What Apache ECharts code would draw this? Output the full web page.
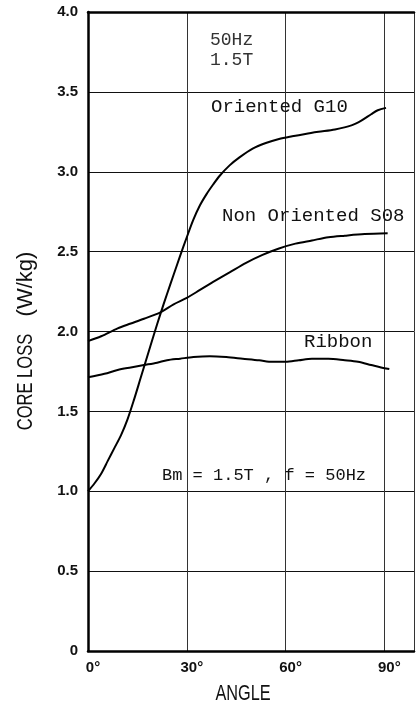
<!DOCTYPE html>
<html>
<head>
<meta charset="utf-8">
<script src="https://cdn.jsdelivr.net/npm/echarts@6/dist/echarts.min.js"></script>
<style>
html,body{margin:0;padding:0;background:#fff;}
#main{width:417px;height:705px;}
</style>
</head>
<body>
<div id="main"></div>
<script>
// core loss vs angle
var xTicks=[0,30,60,90];
var yTicks=[0,0.5,1.0,1.5,2.0,2.5,3.0,3.5,4.0];

var g10Angle=[0,2,4,6,8,10,12,14,16,18,20,22,24,26,28,30,32,34,36,38,40,43,46,50,54,58,62,66,70,75,80,83,86,88,90.5];
var g10Loss=[1.0,1.05,1.11,1.19,1.27,1.35,1.45,1.575,1.71,1.845,1.98,2.11,2.235,2.355,2.475,2.59,2.70,2.79,2.86,2.92,2.975,3.04,3.09,3.145,3.18,3.205,3.222,3.237,3.25,3.265,3.29,3.32,3.36,3.385,3.40];

var s08Angle=[0,4,9,13,17,22,26,30,34,38,43,48,53,58,63,68,73,78,84,91];
var s08Loss=[1.94,1.97,2.02,2.05,2.08,2.12,2.17,2.21,2.26,2.31,2.37,2.43,2.48,2.52,2.55,2.57,2.59,2.60,2.61,2.615];

var ribbonAngle=[0,5,9,13,17,21,24,28,32,37,42,47,52,56,60,64,68,73,78,82,86,89,91.5];
var ribbonLoss=[1.713,1.735,1.759,1.775,1.79,1.805,1.82,1.83,1.84,1.845,1.84,1.83,1.82,1.81,1.81,1.82,1.83,1.83,1.82,1.81,1.79,1.775,1.765];

function pairs(xs,ys){
    var out=[];
    for(var i=0;i<xs.length;i++){ out.push([xs[i],ys[i]]); }
    return out;
}

var monoFont="'Liberation Mono','DejaVu Sans Mono',monospace";
var sansFont="'Liberation Sans',Arial,sans-serif";

//图中的文字注释
function note(text,x,y,size,color){
    return {
        type:'text',x:x,y:y,z:10,
        style:{text:text,font:size+'px '+monoFont,fill:color||'#111',verticalAlign:'middle'}
    };
}

//窄体的坐标轴标题
function axisTitle(text,x,y,rot,sx){
    return {
        type:'text',x:x,y:y,rotation:rot,scaleX:sx,z:10,
        style:{text:text,font:'22px '+sansFont,fill:'#111',align:'center',verticalAlign:'middle'}
    };
}

var myChart=echarts.init(document.getElementById('main'));
var lineStyle={color:'#000',width:2};

var option={
    backgroundColor:'#fff',
    animation:false,
    grid:{left:88,right:0,top:12,bottom:54},
    xAxis:[{
        type:'value',min:0,max:99,interval:30,
        axisLine:{show:true,lineStyle:{color:'#000',width:2.5}},
        axisTick:{show:false},
        axisLabel:{
            margin:9,fontFamily:sansFont,fontWeight:'bold',fontSize:15,color:'#111',padding:[0,0,0,10],
            formatter:function(v){ return xTicks.indexOf(v)>=0 ? v+'°' : ''; }
        },
        splitLine:{show:true,lineStyle:{color:'#333',width:1}}
    },{
        type:'value',position:'top',min:0,max:99,
        axisLine:{show:true,onZero:false,lineStyle:{color:'#000',width:2.5}},
        axisTick:{show:false},axisLabel:{show:false},splitLine:{show:false}
    }],
    yAxis:{
        type:'value',min:0,max:4,interval:0.5,
        axisLine:{show:true,lineStyle:{color:'#000',width:2.5}},
        axisTick:{show:false},
        axisLabel:{
            margin:10,fontFamily:sansFont,fontWeight:'bold',fontSize:15,color:'#111',
            formatter:function(v){ return yTicks.indexOf(v)>=0 ? (v===0 ? '0' : v.toFixed(1)) : ''; }
        },
        splitLine:{show:true,lineStyle:{color:'#111',width:1.2}}
    },
    series:[
        {name:'Oriented G10',type:'line',smooth:0.3,symbol:'none',lineStyle:lineStyle,data:pairs(g10Angle,g10Loss)},
        {name:'Non Oriented S08',type:'line',smooth:0.3,symbol:'none',lineStyle:lineStyle,data:pairs(s08Angle,s08Loss)},
        {name:'Ribbon',type:'line',smooth:0.3,symbol:'none',lineStyle:lineStyle,data:pairs(ribbonAngle,ribbonLoss)}
    ],
    graphic:[
        note('50Hz',210,40,18,'#333'),
        note('1.5T',210,60,18,'#333'),
        note('Oriented G10',211,107,19),
        note('Non Oriented S08',222,216,19),
        note('Ribbon',304,342,19),
        note('Bm = 1.5T , f = 50Hz',162,475,17),
        axisTitle('ANGLE',243,694,0,0.74),
        axisTitle('CORE LOSS',26,382,Math.PI/2,0.75),
        axisTitle('(W/kg)',26,284,Math.PI/2,1.0)
    ]
};
myChart.setOption(option);
</script>
</body>
</html>
